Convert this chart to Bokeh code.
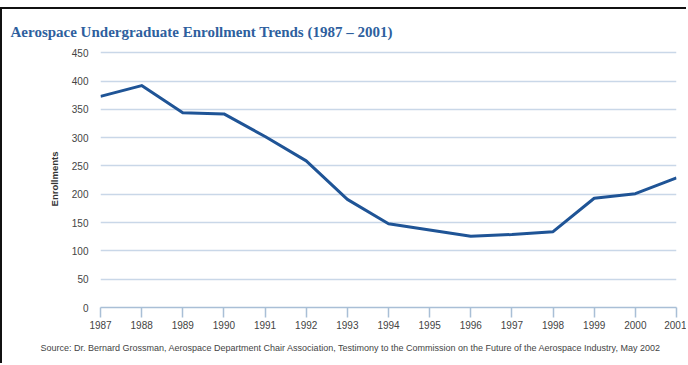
from bokeh.plotting import figure
from bokeh.models import FixedTicker, ColumnDataSource, Title
from bokeh.embed import file_html
from bokeh.resources import INLINE

years = [1987, 1988, 1989, 1990, 1991, 1992, 1993, 1994, 1995, 1996, 1997, 1998, 1999, 2000, 2001]
enrollments = [373, 392, 344, 342, 302, 259, 191, 148, 137, 126, 129, 134, 193, 201, 229]
y_ticks = [0, 50, 100, 150, 200, 250, 300, 350, 400, 450]
title_text = "Aerospace Undergraduate Enrollment Trends (1987 \u2013 2001)"
y_label = "Enrollments"
source_text = ("Source: Dr. Bernard Grossman, Aerospace Department Chair Association, "
               "Testimony to the Commission on the Future of the Aerospace Industry, May 2002")

src = ColumnDataSource(dict(x=years, y=enrollments))

p = figure(width=686, height=356, output_backend="svg", toolbar_location=None,
           x_range=(1987, 2001), y_range=(0, 454),
           min_border_left=98, min_border_right=12, min_border_top=41, min_border_bottom=58)
p.margin = (7, 0, 0, 0)
p.styles = {"border-top": "2px solid #111", "border-left": "2px solid #111"}
p.outline_line_color = None
p.background_fill_color = "white"
p.border_fill_color = "white"

p.title.text = title_text
p.title.text_font = "Liberation Serif"
p.title.text_font_style = "bold"
p.title.text_font_size = "15px"
p.title.text_color = "#2e5f9e"
p.title.align = "left"
p.title.offset = -90
p.title.standoff = 22

p.add_layout(Title(text=source_text, text_font="Liberation Sans", text_font_style="normal",
                   text_font_size="9px", text_color="#444444", align="left",
                   offset=-60, standoff=19), "below")

p.line("x", "y", source=src, line_color="#1f5496", line_width=3, line_join="round")

# x axis
xa = p.xaxis[0]
xa.ticker = FixedTicker(ticks=years)
xa.axis_line_color = "#a9bfd6"
xa.axis_line_width = 1.5
xa.major_tick_line_color = "#a9bfd6"
xa.major_tick_line_width = 1.5
xa.major_tick_in = 0
xa.major_tick_out = 10
xa.minor_tick_line_color = None
xa.major_label_text_font = "Liberation Sans"
xa.major_label_text_font_size = "10px"
xa.major_label_text_color = "#444444"
xa.major_label_standoff = 3

# y axis
ya = p.yaxis[0]
ya.ticker = FixedTicker(ticks=y_ticks)
ya.axis_line_color = None
ya.major_tick_line_color = None
ya.minor_tick_line_color = None
ya.major_tick_in = 0
ya.major_tick_out = 0
ya.major_label_standoff = 12
ya.major_label_text_font = "Liberation Sans"
ya.major_label_text_font_size = "10px"
ya.major_label_text_color = "#444444"
ya.axis_label = y_label
ya.axis_label_text_font = "Liberation Sans"
ya.axis_label_text_font_style = "bold"
ya.axis_label_text_font_size = "9.5px"
ya.axis_label_text_color = "#333333"
ya.axis_label_standoff = 9

p.xgrid.grid_line_color = None
p.ygrid.grid_line_color = "#c9d7e8"
p.ygrid.grid_line_width = 1.5
p.ygrid.ticker = FixedTicker(ticks=y_ticks[1:])

open("out.html", "w").write(file_html(p, INLINE))
